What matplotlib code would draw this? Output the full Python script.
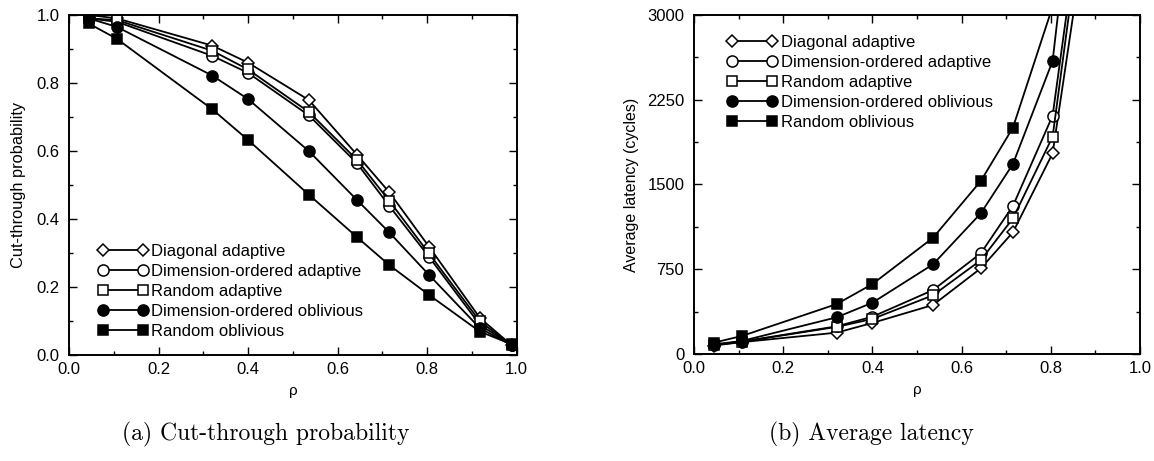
import numpy as np
import matplotlib
matplotlib.use('Agg')
import matplotlib.pyplot as plt
from matplotlib.ticker import MultipleLocator

plt.rcParams['font.family'] = ['Liberation Sans', 'DejaVu Sans']

# offered load
rho = [0.044, 0.107, 0.32, 0.40, 0.536, 0.643, 0.715, 0.804, 0.918, 0.989]

series = ['Diagonal adaptive', 'Dimension-ordered adaptive', 'Random adaptive',
          'Dimension-ordered oblivious', 'Random oblivious']

# cut-through probability
ct_diag = [1.00, 0.99, 0.91, 0.86, 0.75, 0.59, 0.48, 0.32, 0.11, 0.03]
ct_dim_ad = [0.99, 0.98, 0.88, 0.83, 0.705, 0.565, 0.44, 0.29, 0.09, 0.03]
ct_rand_ad = [0.99, 0.985, 0.895, 0.84, 0.715, 0.575, 0.455, 0.30, 0.10, 0.03]
ct_dim_ob = [0.99, 0.965, 0.822, 0.753, 0.60, 0.457, 0.362, 0.237, 0.08, 0.03]
ct_rand_ob = [0.975, 0.93, 0.723, 0.633, 0.472, 0.348, 0.266, 0.178, 0.07, 0.033]

# average latency (cycles); the last points run off the top of the axis
lat_diag = [75, 105, 189, 275, 434, 758, 1077, 1776, 4800, 9000]
lat_dim_ad = [80, 110, 245, 330, 566, 891, 1310, 2109, 5400, 9000]
lat_rand_ad = [78, 108, 240, 310, 520, 830, 1200, 1923, 5300, 9000]
lat_dim_ob = [85, 115, 325, 454, 794, 1245, 1681, 2593, 6500, 9000]
lat_rand_ob = [100, 159, 442, 619, 1029, 1531, 2003, 3075, 8000, 9000]

markers = ['D', 'o', 's', 'o', 's']
filled = [False, False, False, True, True]
msizes = [6, 8, 7, 8, 7]

fig = plt.figure(figsize=(11.54, 4.61), dpi=100)
ax1 = fig.add_axes([0.0598, 0.2289, 0.3879, 0.7386])
ax2 = fig.add_axes([0.6014, 0.2321, 0.3865, 0.7354])


def draw(ax, data):
    for name, y, m, f, ms in zip(series, data, markers, filled, msizes):
        ax.plot(rho, y, color='black', lw=1.3, marker=m, ms=ms,
                mfc='black' if f else 'white', mec='black', mew=1.1,
                label=name, clip_on=True)
    ax.set_xlim(0, 1)
    ax.xaxis.set_major_locator(MultipleLocator(0.2))
    ax.xaxis.set_minor_locator(MultipleLocator(0.1))
    ax.tick_params(which='both', direction='in', top=True, right=True,
                   labelsize=12, width=1.0)
    ax.tick_params(which='major', length=6)
    ax.tick_params(which='minor', length=3)
    ax.tick_params(axis='y', pad=7)
    ax.tick_params(axis='x', pad=5)
    for s in ax.spines.values():
        s.set_linewidth(1.4)
    ax.set_xlabel('ρ', fontsize=11, labelpad=5)


draw(ax1, [ct_diag, ct_dim_ad, ct_rand_ad, ct_dim_ob, ct_rand_ob])
ax1.set_ylim(0, 1)
ax1.yaxis.set_major_locator(MultipleLocator(0.2))
ax1.yaxis.set_minor_locator(MultipleLocator(0.1))
ax1.set_ylabel('Cut-through probability', fontsize=11.8, labelpad=7)
ax1.legend(loc='lower left', bbox_to_anchor=(0.05, 0.028), frameon=False,
           numpoints=2, handlelength=3.0, handletextpad=0.2,
           labelspacing=0.3, fontsize=12, borderaxespad=0)

draw(ax2, [lat_diag, lat_dim_ad, lat_rand_ad, lat_dim_ob, lat_rand_ob])
ax2.set_ylim(0, 3000)
ax2.yaxis.set_major_locator(MultipleLocator(750))
ax2.yaxis.set_minor_locator(MultipleLocator(375))
ax2.set_ylabel('Average latency (cycles)', fontsize=11.5, labelpad=6)
ax2.legend(loc='upper left', bbox_to_anchor=(0.06, 0.96), frameon=False,
           numpoints=2, handlelength=3.0, handletextpad=0.2,
           labelspacing=0.3, fontsize=12, borderaxespad=0)

fig.text(0.2305, 0.057, '(a) Cut-through probability', ha='center', va='center',
         fontsize=17, family=['cmr10', 'DejaVu Serif'])
fig.text(0.755, 0.057, '(b) Average latency', ha='center', va='center',
         fontsize=17, family=['cmr10', 'DejaVu Serif'])

fig.savefig('out.png', dpi=100)
